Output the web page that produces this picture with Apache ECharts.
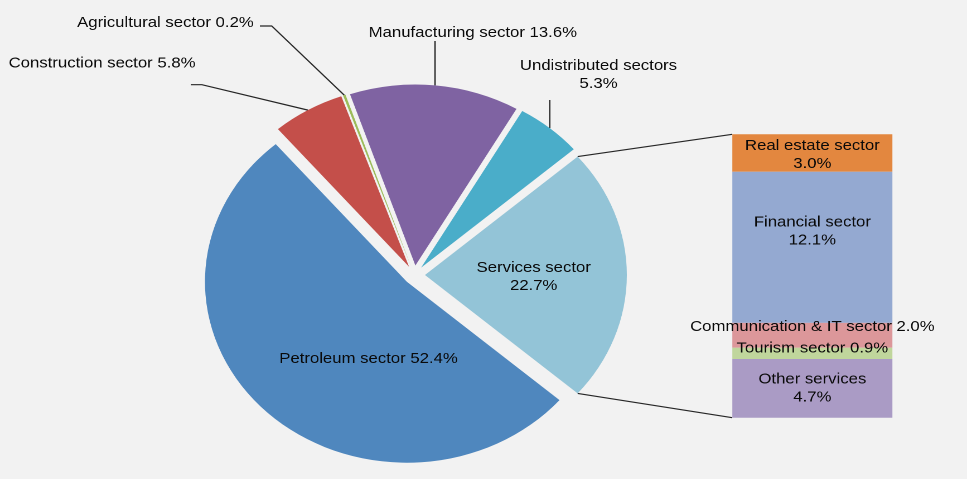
<!DOCTYPE html>
<html>
<head>
<meta charset="utf-8">
<script src="https://cdn.jsdelivr.net/npm/echarts@6/dist/echarts.min.js"></script>
<style>
  html, body { margin: 0; padding: 0; background: #f2f2f2; overflow: hidden; }
  /* the chart is laid out on a narrower canvas and widened to fill the window */
  #chart { width: 867px; height: 479px; transform: scaleX(1.11534); transform-origin: 0 0; }
</style>
</head>
<body>
<div id="chart"></div>
<script>
// Shares of GDP by sector (%), listed clockwise starting with the services slice
const pieNames = ['Services sector', 'Petroleum sector', 'Construction sector', 'Agricultural sector', 'Manufacturing sector', 'Undistributed sectors'];
const pieValues = [22.7, 52.4, 5.8, 0.2, 13.6, 5.3];
const pieColors = ['#93c4d7', '#4f87be', '#c44f4a', '#9bbb59', '#7f63a2', '#4aadc9'];

// Breakdown of the services sector (%), top to bottom of the column
const serviceNames = ['Real estate sector', 'Financial sector', 'Communication & IT sector', 'Tourism sector', 'Other services'];
const serviceValues = [3.0, 12.1, 2.0, 0.9, 4.7];
const serviceColors = ['#e3873f', '#94a9d1', '#dc979a', '#c0d69c', '#aa9bc5'];

// Labels that put the percentage on a second line
const wrappedLabels = ['Services sector', 'Undistributed sectors', 'Real estate sector', 'Financial sector', 'Other services'];

const FONT = "'Liberation Sans', Arial, sans-serif";
const TEXT_COLOR = '#0a0a0a';
const LINE_STYLE = { stroke: '#262626', lineWidth: 1.2 };
const PIE = { cx: 371.5, cy: 275, r: 181, explode: 9.5 };
const BAR = { left: 656.6, top: 134.3, width: 143.5, height: 283.4 };

// where each pie label sits
const pieLabelAt = {
  'Services sector': [478.5, 277],
  'Petroleum sector': [330.4, 359],
  'Construction sector': [91.5, 63.3],
  'Agricultural sector': [148.3, 22.7],
  'Manufacturing sector': [423.9, 32.7],
  'Undistributed sectors': [536.6, 74.7]
};
// leader line points on the label side (null x = straight above the slice)
const leaderFrom = {
  'Construction sector': [[171, 84.7], [181, 84.7]],
  'Agricultural sector': [[233, 26], [243.6, 26]],
  'Manufacturing sector': [[null, 41]],
  'Undistributed sectors': [[null, 100]]
};
// small vertical nudges for the column labels
const barLabelShift = [2, -16, -8.5, -5, 0];

const pieTotal = pieValues.reduce((a, b) => a + b, 0);
const serviceTotal = serviceValues.reduce((a, b) => a + b, 0);
// services slice centred on the 3 o'clock direction
const startAngle = pieValues[0] / pieTotal * 180;

function labelText(name, value) {
  return name + (wrappedLabels.includes(name) ? '\n' : ' ') + value.toFixed(1) + '%';
}

function sliceEdge(i) {
  let cum = 0;
  for (let k = 0; k < i; k++) cum += pieValues[k];
  const mid = (startAngle - (cum + pieValues[i] / 2) / pieTotal * 360) * Math.PI / 180;
  const d = PIE.r + PIE.explode;
  return [PIE.cx + d * Math.cos(mid), PIE.cy - d * Math.sin(mid)];
}

const chart = echarts.init(document.getElementById('chart'), null, { devicePixelRatio: 2 });

const option = {
  backgroundColor: '#f2f2f2',
  animation: false,
  grid: { left: BAR.left, top: BAR.top, width: BAR.width, height: BAR.height },
  xAxis: { type: 'category', data: ['Services sector'], show: false },
  yAxis: { type: 'value', min: 0, max: serviceTotal, inverse: true, show: false },
  series: [
    {
      type: 'pie',
      center: [PIE.cx, PIE.cy],
      radius: [0, PIE.r],
      startAngle: startAngle,
      clockwise: true,
      selectedMode: 'multiple',
      selectedOffset: PIE.explode,
      avoidLabelOverlap: false,
      emphasis: { disabled: true },
      data: pieNames.map((n, i) => ({
        name: n, value: pieValues[i], selected: true,
        itemStyle: { color: pieColors[i] }
      })),
      label: { show: false },
      labelLine: { show: false }
    }
  ].concat(serviceNames.map((n, i) => ({
    type: 'bar',
    name: n,
    stack: 'services',
    barWidth: '100%',
    emphasis: { disabled: true },
    itemStyle: { color: serviceColors[i] },
    data: [serviceValues[i]],
    label: {
      show: true, position: 'inside', color: TEXT_COLOR, fontSize: 15, fontFamily: FONT, lineHeight: 18,
      offset: [0, barLabelShift[i]],
      formatter: p => labelText(p.seriesName, p.value)
    }
  })))
};
chart.setOption(option);

const graphics = [];

// pie slice labels and their leader lines to the outer edge of each slice
pieNames.forEach((n, i) => {
  const at = pieLabelAt[n];
  graphics.push({
    type: 'text', silent: true, z: 10,
    style: {
      text: labelText(n, pieValues[i]), x: at[0], y: at[1],
      align: 'center', verticalAlign: 'middle',
      fontSize: 15, fontFamily: FONT, lineHeight: 18, fill: TEXT_COLOR
    }
  });
  const from = leaderFrom[n];
  if (!from) return;
  const edge = sliceEdge(i);
  const pts = from.map(p => [p[0] == null ? edge[0] : p[0], p[1]]);
  pts.push(edge);
  graphics.push({ type: 'polyline', shape: { points: pts }, style: Object.assign({ fill: null }, LINE_STYLE), silent: true });
});

// connectors from the exploded services slice to the top and bottom of the column
const sa = startAngle * Math.PI / 180;
const sliceTop = [PIE.cx + PIE.explode + PIE.r * Math.cos(sa), PIE.cy - PIE.r * Math.sin(sa)];
const sliceBottom = [PIE.cx + PIE.explode + PIE.r * Math.cos(sa), PIE.cy + PIE.r * Math.sin(sa)];
const colTop = chart.convertToPixel({ yAxisIndex: 0 }, 0);
const colBottom = chart.convertToPixel({ yAxisIndex: 0 }, serviceTotal);
graphics.push({ type: 'line', shape: { x1: sliceTop[0], y1: sliceTop[1], x2: BAR.left, y2: colTop }, style: LINE_STYLE, silent: true });
graphics.push({ type: 'line', shape: { x1: sliceBottom[0], y1: sliceBottom[1], x2: BAR.left, y2: colBottom }, style: LINE_STYLE, silent: true });

chart.setOption({ graphic: graphics });
</script>
</body>
</html>
